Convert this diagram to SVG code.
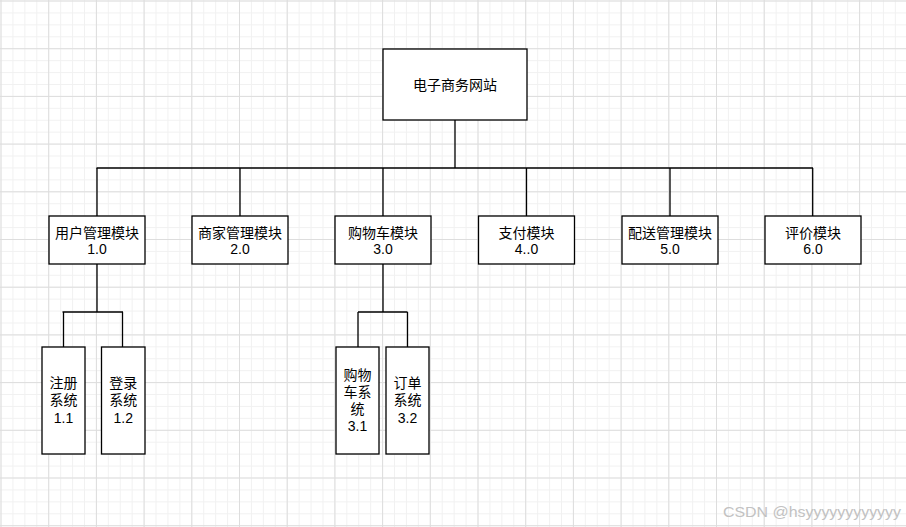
<svg xmlns="http://www.w3.org/2000/svg" width="906" height="527" viewBox="0 0 906 527">
<defs>
<pattern id="minor" patternUnits="userSpaceOnUse" x="0.5" y="0.5" width="11.925" height="11.925">
<rect x="0" y="0" width="1" height="11.925" fill="#f1f1f1"/>
<rect x="0" y="0" width="11.925" height="1" fill="#f1f1f1"/>
</pattern>
<pattern id="major" patternUnits="userSpaceOnUse" x="0.5" y="0.5" width="47.7" height="47.7">
<rect x="0" y="0" width="1" height="47.7" fill="#dddddd"/>
<rect x="0" y="0" width="47.7" height="1" fill="#dddddd"/>
</pattern>
</defs>
<style>
.box{fill:#ffffff;stroke:#000000;stroke-width:1.3}
.t{font-family:"Liberation Sans","Noto Sans CJK SC",sans-serif;font-size:14px;fill:#000000;text-anchor:middle}
.wm{font-family:"Liberation Sans","Noto Sans CJK SC",sans-serif;font-size:15.5px;fill:#c2c2c2}
#connectors path{fill:none;stroke:#000000;stroke-width:1.3}
</style>
<rect width="906" height="527" fill="#ffffff"/>
<rect width="906" height="527" fill="url(#minor)"/>
<rect width="906" height="527" fill="url(#major)"/>
<g id="connectors">
<path d="M455,120 V168"/>
<path d="M96.5,168 H813"/>
<path d="M97,168 V216 M240,168 V216 M383,168 V216 M526.5,168 V216 M670,168 V216 M812.7,168 V216"/>
<path d="M97,264 V312 M62.5,312 H123 M63.5,312 V347 M122.5,312 V347"/>
<path d="M383,264 V312 M358,312 H407.5 M358,312 V347 M407.5,312 V347"/>
</g>
<g id="root"><rect class="box" x="383" y="49" width="144" height="71"/><text class="t" x="455" y="89.5">电子商务网站</text></g>
<g id="m1"><rect class="box" x="49" y="216" width="96" height="48"/><text class="t" x="97" y="237.5">用户管理模块</text><text class="t" x="97" y="253.5">1.0</text></g>
<g id="m2"><rect class="box" x="192" y="216" width="96" height="48"/><text class="t" x="240" y="237.5">商家管理模块</text><text class="t" x="240" y="253.5">2.0</text></g>
<g id="m3"><rect class="box" x="335" y="216" width="96" height="48"/><text class="t" x="383" y="237.5">购物车模块</text><text class="t" x="383" y="253.5">3.0</text></g>
<g id="m4"><rect class="box" x="478.5" y="216" width="96" height="48"/><text class="t" x="526.5" y="237.5">支付模块</text><text class="t" x="526.5" y="253.5">4..0</text></g>
<g id="m5"><rect class="box" x="622" y="216" width="96" height="48"/><text class="t" x="670" y="237.5">配送管理模块</text><text class="t" x="670" y="253.5">5.0</text></g>
<g id="m6"><rect class="box" x="765" y="216" width="96" height="48"/><text class="t" x="813" y="237.5">评价模块</text><text class="t" x="813" y="253.5">6.0</text></g>
<g id="s11"><rect class="box" x="42" y="347" width="43" height="107"/><text class="t" x="63.5" y="388">注册</text><text class="t" x="63.5" y="405">系统</text><text class="t" x="63.5" y="422.5">1.1</text></g>
<g id="s12"><rect class="box" x="101.5" y="347" width="43.5" height="107"/><text class="t" x="123.2" y="388">登录</text><text class="t" x="123.2" y="405">系统</text><text class="t" x="123.2" y="422.5">1.2</text></g>
<g id="s31"><rect class="box" x="336" y="347" width="43" height="107"/><text class="t" x="357.5" y="380">购物</text><text class="t" x="357.5" y="397">车系</text><text class="t" x="357.5" y="413.5">统</text><text class="t" x="357.5" y="430.5">3.1</text></g>
<g id="s32"><rect class="box" x="386" y="347" width="43" height="107"/><text class="t" x="407.5" y="388">订单</text><text class="t" x="407.5" y="405">系统</text><text class="t" x="407.5" y="422.5">3.2</text></g>
<text class="wm" x="723" y="517" textLength="178" lengthAdjust="spacingAndGlyphs">CSDN @hsyyyyyyyyyyyy</text>
</svg>
